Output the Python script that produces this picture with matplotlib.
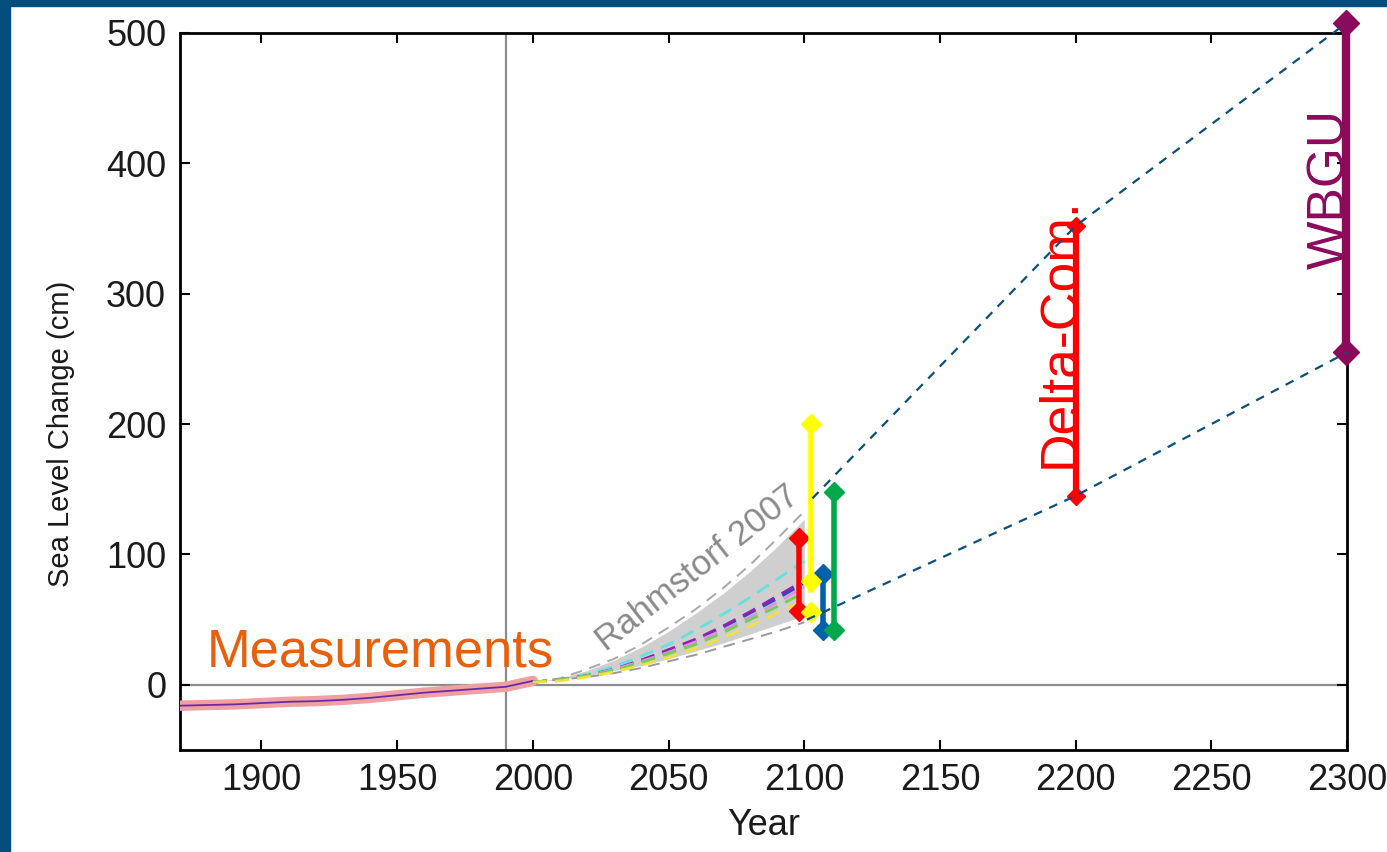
import matplotlib
matplotlib.use("Agg")
import matplotlib.pyplot as plt
from matplotlib.patches import Rectangle

plt.rcParams['font.family'] = ['Liberation Sans', 'DejaVu Sans']

# measured sea level (cm)
meas_years = [1870, 1880, 1890, 1900, 1910, 1920, 1930, 1940, 1950, 1960, 1970, 1980, 1990, 2000]
meas_vals = [-16, -15.5, -15, -14, -13, -12.5, -11.5, -10, -8, -6, -4.5, -3, -1.5, 3]

# Rahmstorf 2007 projections
proj_years = [2000, 2010, 2020, 2030, 2040, 2050, 2060, 2070, 2080, 2090, 2100]
fan_low = [2, 4, 7, 11, 15, 20, 26, 32, 39, 46, 53]
fan_high = [2, 5, 11, 19, 29, 41, 55, 70, 87, 106, 127]
gray_low = [2, 4, 6, 9, 13, 18, 23, 29, 35, 41, 48]
gray_high = [2, 5, 12, 20, 31, 44, 58, 74, 92, 112, 133]
proj_lines = {
    '#66e0e0': [2, 4, 8, 14, 22, 31, 42, 54, 67, 81, 95],
    '#2050c0': [2, 4, 7, 12, 18, 26, 34, 44, 55, 66, 78],
    '#9020b0': [2, 4, 7, 12, 19, 27, 35, 45, 56, 68, 80],
    '#e090e0': [2, 4, 7, 12, 18, 25, 33, 42, 52, 63, 75],
    '#70d050': [2, 4, 7, 11, 17, 24, 31, 40, 50, 60, 71],
    '#f0e040': [2, 3, 6, 10, 15, 21, 28, 36, 45, 55, 65],
}

# 2100 ranges: (year position, low, high, colour)
ranges_2100 = [(2098.2, 57, 113, '#ff0000'),
               (2102.6, 80, 200, '#ffff00'),
               (2107, 42, 85, '#0060a8'),
               (2111, 42, 148, '#00a84a')]
yellow_low = [56, 80]

delta_com = (2200, 145, 352)
wbgu = (2299.5, 255, 508)

upper_years = [2103, 2200, 2300]
upper_vals = [143, 352, 508]
lower_years = [2101, 2200, 2300]
lower_vals = [50, 145, 255]

fig = plt.figure(figsize=(13.87, 8.52), dpi=100)
ax = fig.add_axes([0.1298, 0.1197, 0.8414, 0.8416])

# blue frame on top and left
fig.patches.append(Rectangle((0, 1 - 0.0075), 1, 0.0075, transform=fig.transFigure, color='#024e7c', zorder=10))
fig.patches.append(Rectangle((0, 0), 0.0075, 1, transform=fig.transFigure, color='#024e7c', zorder=10))

ax.axvline(1990, color='#8c8c8c', lw=1.6, zorder=1)
ax.axhline(0, color='#8c8c8c', lw=1.6, zorder=1)

# measurements
ax.plot(meas_years, meas_vals, color='#f0a0a0', lw=7.5, solid_capstyle='round', zorder=3)
ax.plot(meas_years, meas_vals, color='#6a2aa8', lw=1.3, zorder=4)

# projections fan
ax.fill_between(proj_years, fan_low, fan_high, color='#cfcfcf', lw=0, zorder=2)
ax.plot(proj_years, gray_low, color='#9a9a9a', lw=1.4, dashes=(6, 4), zorder=3)
ax.plot(proj_years, gray_high, color='#a8a8a8', lw=1.4, dashes=(6, 4), zorder=3)
for col, vals in proj_lines.items():
    ax.plot(proj_years, vals, color=col, lw=2, dashes=(5, 3), zorder=4)

# ranges around 2100
for x, lo, hi, col in ranges_2100:
    ax.plot([x, x], [lo, hi], color=col, lw=4, marker='D', ms=10, zorder=6)
ax.plot([2102.6, 2102.6], yellow_low, color='#ffff00', lw=4, dashes=(1.5, 2),
        marker='D', ms=10, zorder=6)

# long-term ranges
ax.plot([delta_com[0]] * 2, delta_com[1:], color='#ff0000', lw=4.5, marker='D', ms=9, zorder=6)
ax.plot([wbgu[0]] * 2, wbgu[1:], color='#8c0a5c', lw=6, marker='D', ms=13, zorder=6, clip_on=False)

ax.plot(upper_years, upper_vals, color='#0b4f7c', lw=1.6, dashes=(4, 3.5), zorder=7, clip_on=False)
ax.plot(lower_years, lower_vals, color='#0b4f7c', lw=1.6, dashes=(4, 3.5), zorder=7, clip_on=False)

# labels in the plot
ax.text(1880, 14, 'Measurements', color='#e8600c', fontsize=37.8, ha='left', va='baseline', zorder=8)
ax.text(2027, 25, 'Rahmstorf 2007', color='#8a8a8a', fontsize=25, rotation=38,
        rotation_mode='anchor', ha='left', va='baseline', zorder=8)
ax.text(2199.3, 270, 'Delta-Com.', color='#ff0000', fontsize=38.5, rotation=90,
        rotation_mode='anchor', ha='center', va='baseline', zorder=5)
ax.text(2299, 380, 'WBGU', color='#8c0a5c', fontsize=37, rotation=90,
        rotation_mode='anchor', ha='center', va='baseline', zorder=5)

ax.set_xlim(1870, 2300)
ax.set_ylim(-50, 500)
ax.set_xticks([1900, 1950, 2000, 2050, 2100, 2150, 2200, 2250, 2300])
ax.set_yticks([0, 100, 200, 300, 400, 500])
ax.tick_params(direction='in', length=7, width=1.5, top=True, right=True, labelsize=26,
               labelcolor='#1a1a1a')
ax.tick_params(axis='x', pad=9)
ax.tick_params(axis='y', pad=10)
for sp in ax.spines.values():
    sp.set_linewidth(2)

ax.set_xlabel('Year', fontsize=26, color='#1a1a1a')
ax.set_ylabel('Sea Level Change (cm)', fontsize=21, color='#1a1a1a')
ax.xaxis.set_label_coords(0.5, -0.081)
ax.xaxis.label.set_va('top')
ax.yaxis.set_label_coords(-0.09, 0.4407)

fig.savefig('out.png', dpi=100, facecolor='white')
